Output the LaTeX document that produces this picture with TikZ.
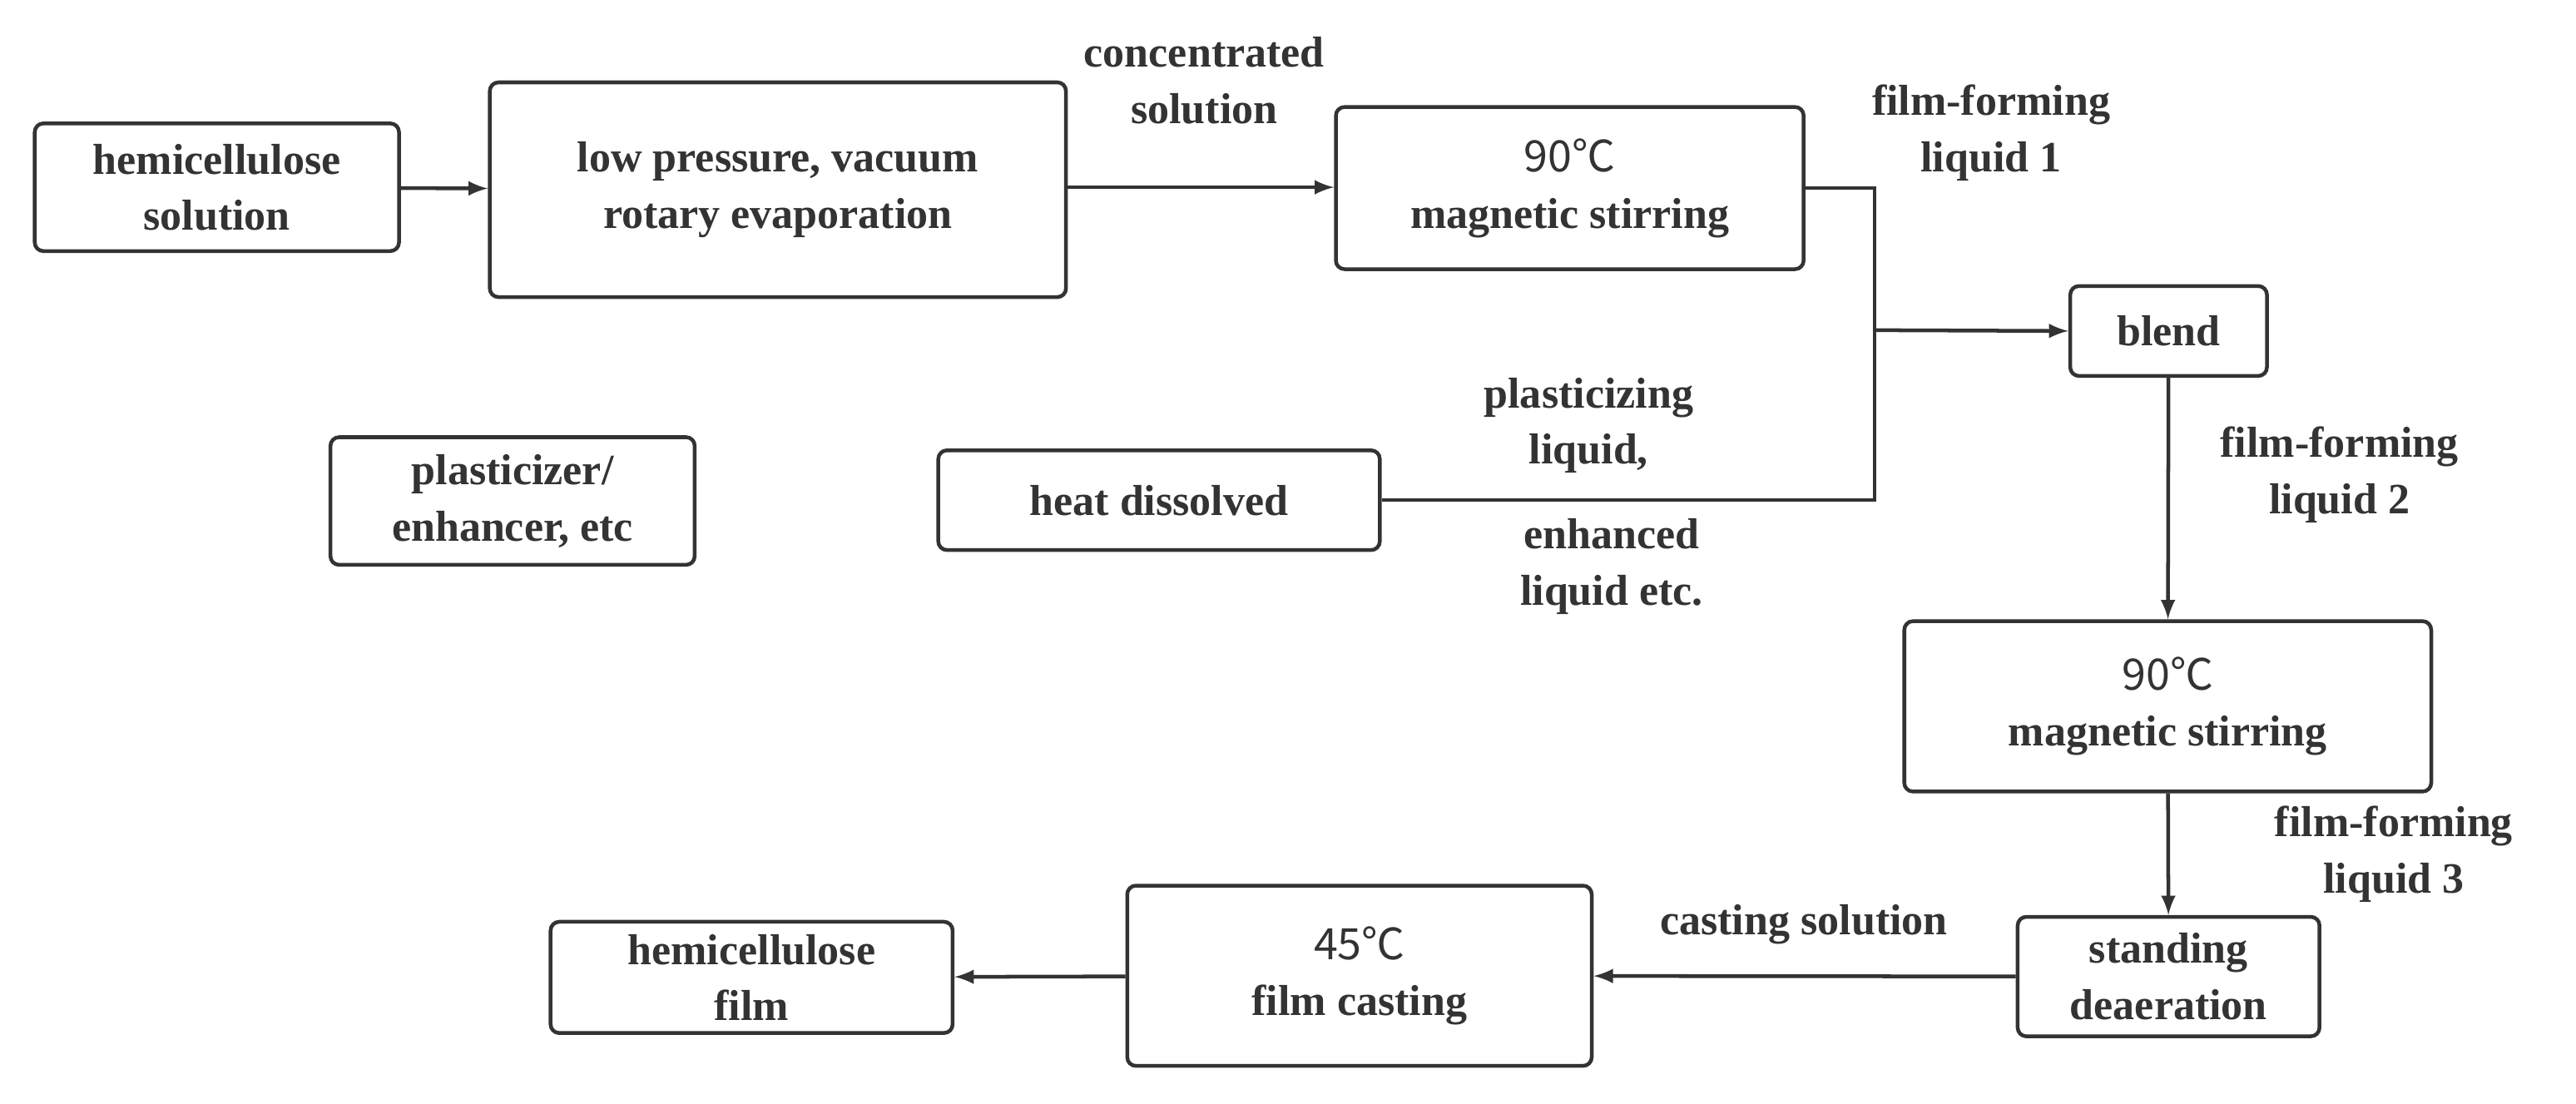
\documentclass[tikz,border=0pt]{standalone}
\usepackage{fontspec}
\setmainfont{Liberation Serif}
\newfontfamily\cjk{Noto Sans CJK SC}
\begin{document}
\begin{tikzpicture}[x=0.02cm,y=-0.02cm,
 line width=1.3pt, draw=black!80, text=black!80,
 box/.style={draw=black!80,rounded corners=3pt,line width=1.3pt,inner sep=0pt,align=center,font=\fontsize{15}{19.5}\selectfont\bfseries},
 lab/.style={align=center,font=\fontsize{15}{19.5}\selectfont\bfseries,inner sep=0pt},
 arr/.style={-latex,draw=black!80,line width=1.3pt}]
\useasboundingbox (0,0) rectangle (1568,672);
\def\bx#1#2#3#4#5#6{\node[box,minimum width=#4*0.02cm-1.3pt,minimum height=#5*0.02cm-1.3pt] (#1) at (#2,#3) {#6};}
\bx{a}{132}{114}{224}{80}{hemicellulose\\solution}
\bx{b}{473.5}{115.5}{353}{133}{low pressure, vacuum\\rotary evaporation}
\bx{c}{955.5}{114.5}{287}{101}{{\cjk\mdseries 90℃}\\magnetic stirring}
\bx{d}{1320}{201.5}{122}{57}{blend}
\bx{e}{312}{305}{224}{80}{plasticizer/\\enhancer, etc}
\bx{f}{705.5}{304.5}{271}{63}{heat dissolved}
\bx{g}{1319.5}{430}{323}{106}{{\cjk\mdseries 90℃}\\magnetic stirring}
\bx{h}{1320}{594.5}{186}{75}{standing\\deaeration}
\bx{i}{827.5}{594}{285}{112}{{\cjk\mdseries 45℃}\\film casting}
\bx{j}{457.5}{595}{247}{70}{hemicellulose\\film}
\coordinate (m) at (1141,201);
\draw[arr] (a) -- (b);
\draw[arr] (b.east|-a.east) -- (c.west|-a.east);
\draw (c.east) -| (m);
\draw (f.east) -| (m);
\draw[arr] (m) -- (d.west);
\draw[arr] (d) -- (g);
\draw[arr] (g) -- (h);
\draw[arr] (h) -- (i);
\draw[arr] (i) -- (j);
\node[lab] at (733,49) {concentrated\\solution};
\node[lab] at (1212,81) {film-forming\\liquid 1};
\node[lab] at (967,259) {plasticizing\\liquid,};
\node[lab] at (981,345) {enhanced\\liquid etc.};
\node[lab] at (1424,289) {film-forming\\liquid 2};
\node[lab] at (1457,520) {film-forming\\liquid 3};
\node[lab] at (1098,563) {casting solution};
\end{tikzpicture}
\end{document}
